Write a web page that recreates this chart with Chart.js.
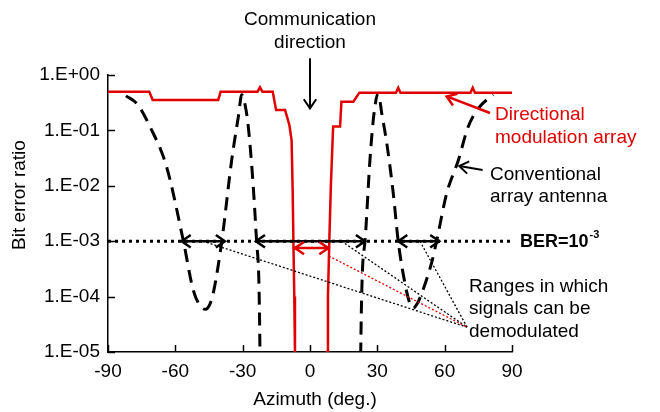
<!DOCTYPE html>
<html>
<head>
<meta charset="utf-8">
<script src="https://cdn.jsdelivr.net/npm/chart.js@4/dist/chart.umd.min.js"></script>
<style>
html, body { margin: 0; padding: 0; background: #fff; }
</style>
</head>
<body>
<canvas id="myChart" width="660" height="412"></canvas>
<script>
// axis ticks
const xTicks = [-90, -60, -30, 0, 30, 60, 90]
const yTicks = [1e-5, 1e-4, 1e-3, 1e-2, 1e-1, 1]

// directional modulation array (red)
const dmaAzimuth = [-90, -71.6, -70.1, -40.9, -39.8, -23.4, -22.3, -21.2, -16.6, -15.1, -11.1, -9.2, -8.2, -7.7, -7.4, -7.0, -6.7, -6.5,
  7.4, 7.6, 8.0, 8.6, 9.3, 10.3, 13.4, 14.0, 19.3, 22.0, 38.3, 39.3, 40.3, 71.5, 72.5, 73.5, 90]
const dmaBer = [0.5, 0.5, 0.355, 0.355, 0.5, 0.5, 0.6, 0.5, 0.5, 0.233, 0.233, 0.125, 0.067, 0.0073, 1e-3, 1e-4, 1e-5, 1e-7,
  1e-7, 1e-5, 1e-4, 1e-3, 1e-2, 0.117, 0.117, 0.33, 0.33, 0.48, 0.48, 0.59, 0.48, 0.48, 0.59, 0.48, 0.48]

// conventional array antenna (black dashed)
const convAzimuth = [-82, -77, -71.3, -63.9, -56.4, -52, -48.5, -46.5, -44.8, -43.1, -39.3, -34.9, -31.9, -30.4, -29, -27.5, -25.3, -23.8, -22.3, -22.1,
  22.4, 22.6, 24.5, 26.7, 28.5, 30.4, 32, 34.2, 37.1, 39.3, 42.3, 44.5, 46, 47.8, 49.8, 54.2, 56.4, 60.9, 66.1, 70.5, 75.7, 81.7]
const convBer = [0.42, 0.3, 0.117, 0.022, 1e-3, 1.3e-4, 6.5e-5, 5.9e-5, 7e-5, 1.15e-4, 1e-3, 0.029, 0.18, 0.44, 0.3, 0.117, 0.01, 1e-3, 1e-5, 1e-7,
  1e-7, 1e-5, 1e-3, 0.029, 0.2, 0.47, 0.2, 0.059, 7.3e-3, 1e-3, 1.74e-4, 7.5e-5, 6.2e-5, 7.5e-5, 1.15e-4, 4.1e-4, 1e-3, 7.3e-3, 0.029, 0.117, 0.27, 0.44]

// BER threshold and demodulation ranges
const berLimit = 1e-3
const convRanges = [[-57.2, -37.9], [-24.1, 24.5], [39.3, 57.6]]
const dmaRange = [-6.7, 8.2]

const fontFam = '"Liberation Sans", Arial, sans-serif'

const pts = (xs, ys) => xs.map((v, i) => ({x: v, y: ys[i]}))

function sci(v) {
  const e = Math.round(Math.log10(v))
  return '1.E' + (e < 0 ? '-' : '+') + String(Math.abs(e)).padStart(2, '0')
}

function head(ctx, x, y, ang, len, spread) {
  ctx.beginPath()
  ctx.moveTo(x - len * Math.cos(ang - spread), y - len * Math.sin(ang - spread))
  ctx.lineTo(x, y)
  ctx.lineTo(x - len * Math.cos(ang + spread), y - len * Math.sin(ang + spread))
  ctx.stroke()
}

function arrow(ctx, a, b, both) {
  ctx.beginPath()
  ctx.moveTo(a[0], a[1])
  ctx.lineTo(b[0], b[1])
  ctx.stroke()
  const ang = Math.atan2(b[1] - a[1], b[0] - a[0])
  head(ctx, b[0], b[1], ang, 11, 0.6)
  if (both) head(ctx, a[0], a[1], ang + Math.PI, 11, 0.6)
}

const decor = {
  id: 'decor',
  afterDatasetsDraw(chart) {
    const {ctx, scales: {x, y}, chartArea: ca} = chart
    const P = (d, b) => [x.getPixelForValue(d), y.getPixelForValue(b)]
    ctx.save()
    ctx.lineCap = 'butt'

    // inward ticks
    ctx.strokeStyle = '#000'
    ctx.lineWidth = 1.5
    xTicks.forEach(v => {
      const px = Math.round(x.getPixelForValue(v)) + 0.5
      ctx.beginPath(); ctx.moveTo(px, ca.bottom); ctx.lineTo(px, ca.bottom - 7); ctx.stroke()
    })
    yTicks.forEach(v => {
      const py = Math.round(y.getPixelForValue(v)) + 0.5
      ctx.beginPath(); ctx.moveTo(ca.left, py); ctx.lineTo(ca.left + 7, py); ctx.stroke()
    })

    // leader lines to the "Ranges" label
    const hub = P(70, 2.8e-5)
    ctx.lineWidth = 1.3
    ctx.setLineDash([2, 2])
    ;[[-47.7, 1e-3], [14.1, 1e-3], [49, 1e-3]].forEach(s => {
      const p = P(s[0], s[1])
      ctx.beginPath(); ctx.moveTo(p[0], p[1]); ctx.lineTo(hub[0], hub[1]); ctx.stroke()
    })
    ctx.strokeStyle = '#e00000'
    const r = P(8.4, 5.4e-4)
    ctx.beginPath(); ctx.moveTo(r[0], r[1]); ctx.lineTo(hub[0], hub[1]); ctx.stroke()
    ctx.setLineDash([])

    // range arrows on the BER line
    ctx.strokeStyle = '#000'
    ctx.lineWidth = 2.5
    convRanges.forEach(rg => arrow(ctx, P(rg[0], berLimit), P(rg[1], berLimit), true))
    ctx.strokeStyle = '#e00000'
    arrow(ctx, P(dmaRange[0], 7.5e-4), P(dmaRange[1], 7.5e-4), true)

    // pointers to the curves
    ctx.lineWidth = 2.5
    arrow(ctx, P(80.2, 0.206), P(60.9, 0.41), false)
    ctx.strokeStyle = '#000'
    ctx.lineWidth = 2
    arrow(ctx, P(76.9, 0.0193), P(66.5, 0.0228), false)
    arrow(ctx, P(0, 2.0), P(0, 0.25), false)

    // texts
    ctx.fillStyle = '#000'
    ctx.font = '19px ' + fontFam
    ctx.textBaseline = 'middle'
    ctx.textAlign = 'center'
    ctx.fillText('Communication', 310, 20)
    ctx.fillText('direction', 310, 43)
    ctx.fillText('Azimuth (deg.)', 315, 400)
    ctx.textAlign = 'left'
    ctx.fillText('Conventional', 490, 175)
    ctx.fillText('array antenna', 490, 197)
    ctx.fillText('Ranges in which', 469, 287)
    ctx.fillText('signals can be', 469, 309)
    ctx.fillText('demodulated', 469, 332)
    ctx.fillStyle = '#e00000'
    ctx.fillText('Directional', 495, 115)
    ctx.fillText('modulation array', 495, 138)
    ctx.fillStyle = '#000'
    ctx.font = 'bold 18px ' + fontFam
    ctx.fillText('BER=10', 520, 242)
    const w = ctx.measureText('BER=10').width
    ctx.font = 'bold 11px ' + fontFam
    ctx.fillText('-3', 520 + w + 1, 235)

    ctx.save()
    ctx.translate(20, 195)
    ctx.rotate(-Math.PI / 2)
    ctx.font = '19px ' + fontFam
    ctx.textAlign = 'center'
    ctx.fillText('Bit error ratio', 0, 0)
    ctx.restore()

    ctx.restore()
  }
}

const ctx = document.getElementById('myChart')

new Chart(ctx, {
  type: 'line',
  data: {
    datasets: [
      {
        label: 'Directional modulation array',
        data: pts(dmaAzimuth, dmaBer),
        borderColor: '#e00000',
        borderWidth: 2.5,
        pointRadius: 0,
        tension: 0,
        order: 0,
        clip: {left: 2, right: 2, top: 5, bottom: 0}
      },
      {
        label: 'Conventional array antenna',
        data: pts(convAzimuth, convBer),
        borderColor: '#000',
        borderWidth: 3,
        borderDash: [13, 8],
        pointRadius: 0,
        cubicInterpolationMode: 'monotone',
        order: 1,
        clip: {left: 2, right: 2, top: 5, bottom: 0}
      },
      {
        label: 'BER=10-3',
        data: [{x: -90, y: berLimit}, {x: 90, y: berLimit}],
        borderColor: '#000',
        borderWidth: 3,
        borderDash: [3, 4],
        pointRadius: 0,
        order: 2
      }
    ]
  },
  options: {
    responsive: false,
    animation: false,
    events: [],
    layout: {padding: {top: 75, right: 148, left: 0, bottom: 0}},
    plugins: {legend: {display: false}, tooltip: {enabled: false}},
    scales: {
      x: {
        type: 'linear',
        min: -90,
        max: 90,
        afterFit: s => { s.height = 60 },
        afterBuildTicks: s => { s.ticks = xTicks.map(v => ({value: v})) },
        grid: {display: false, drawTicks: false},
        border: {display: true, color: '#000', width: 1.5},
        ticks: {color: '#000', font: {family: fontFam, size: 19}, padding: 8, maxRotation: 0}
      },
      y: {
        type: 'logarithmic',
        min: 1e-5,
        max: 1,
        afterFit: s => { s.width = 108 },
        afterBuildTicks: s => { s.ticks = yTicks.map(v => ({value: v, major: true})) },
        grid: {display: false, drawTicks: false},
        border: {display: true, color: '#000', width: 1.5},
        ticks: {color: '#000', font: {family: fontFam, size: 19}, padding: 8, callback: v => sci(v)}
      }
    }
  },
  plugins: [decor]
})
</script>
</body>
</html>
